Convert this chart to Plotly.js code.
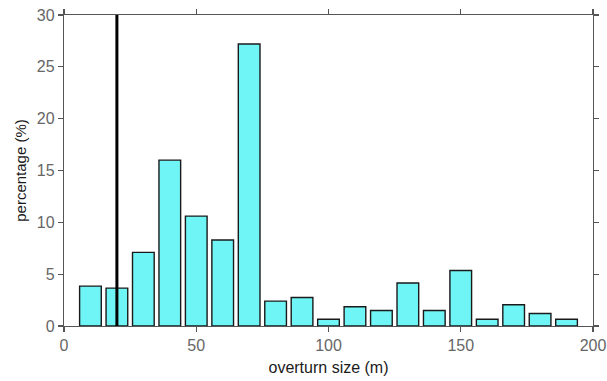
<!DOCTYPE html>
<html>
<head>
<meta charset="utf-8">
<script src="https://cdn.plot.ly/plotly-3.0.1.min.js"></script>
<style>html,body{margin:0;padding:0;background:#fff;}#chart{width:607px;height:381px;}</style>
</head>
<body>
<div id="chart"></div>
<script>
// Bin centres (m) and percentage in each bin
var binCenters = [10, 20, 30, 40, 50, 60, 70, 80, 90, 100, 110, 120, 130, 140, 150, 160, 170, 180, 190];
var percentages = [3.85, 3.65, 7.1, 16.0, 10.6, 8.3, 27.2, 2.4, 2.75, 0.65, 1.85, 1.5, 4.15, 1.5, 5.35, 0.65, 2.05, 1.2, 0.65];
// Threshold marker line
var thresholdX = 20;
var thresholdRange = [0, 30];
var xTicks = [0, 50, 100, 150, 200];
var yTicks = [0, 5, 10, 15, 20, 25, 30];

var bars = {
  type: 'bar',
  x: binCenters,
  y: percentages,
  width: 8.2,
  marker: {color: '#6ff5f5', line: {color: '#1a1a1a', width: 1.4}},
  hoverinfo: 'x+y'
};
var marker = {
  type: 'scatter',
  mode: 'lines',
  x: [thresholdX, thresholdX],
  y: thresholdRange,
  line: {color: '#000', width: 3},
  hoverinfo: 'skip'
};

var axisCommon = {
  showgrid: false,
  zeroline: false,
  showline: true,
  linecolor: '#555',
  linewidth: 1.2,
  mirror: 'ticks',
  ticks: 'outside',
  ticklen: 5,
  tickwidth: 1.2,
  tickcolor: '#555',
  tickfont: {family: 'Liberation Sans, Arial, sans-serif', size: 16, color: '#666'}
};

var layout = {
  width: 607,
  height: 381,
  margin: {l: 64, r: 14, t: 15, b: 55},
  paper_bgcolor: '#fff',
  plot_bgcolor: '#fff',
  showlegend: false,
  bargap: 0,
  xaxis: Object.assign({}, axisCommon, {
    range: [0, 200],
    tickvals: xTicks,
    ticktext: xTicks.map(String),
    title: {text: 'overturn size (m)', standoff: 8,
            font: {family: 'Liberation Sans, Arial, sans-serif', size: 16, color: '#1a1a1a', weight: 500}}
  }),
  yaxis: Object.assign({}, axisCommon, {
    range: [0, 30],
    tickvals: yTicks,
    ticktext: yTicks.map(String),
    title: {text: 'percentage (%)', standoff: 6,
            font: {family: 'Liberation Sans, Arial, sans-serif', size: 15, color: '#1a1a1a'}}
  })
};

Plotly.newPlot('chart', [bars, marker], layout, {displayModeBar: false, staticPlot: true});
</script>
</body>
</html>
